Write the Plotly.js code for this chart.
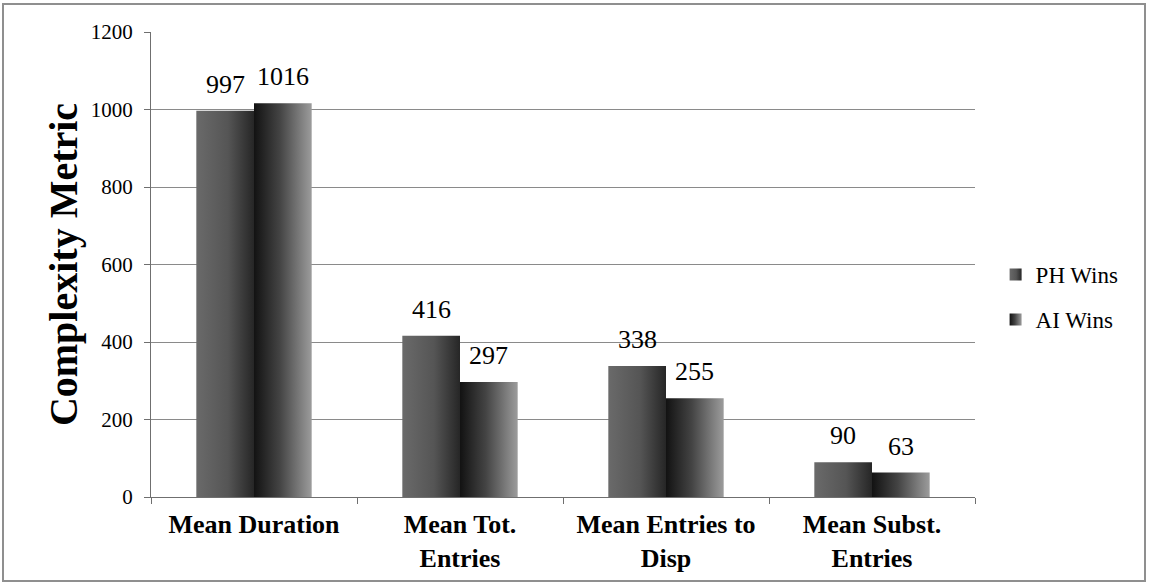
<!DOCTYPE html>
<html>
<head>
<meta charset="utf-8">
<script src="https://cdn.plot.ly/plotly-3.0.1.min.js"></script>
<style>
  html, body { margin: 0; padding: 0; background: #fff; }
  #wrap { position: relative; width: 1151px; height: 587px; }
  #chart { width: 1151px; height: 587px; }
  #frame { position: absolute; left: 2px; top: 3px; width: 1144px; height: 579px;
           border: 2px solid #8f8f8f; pointer-events: none; box-sizing: border-box; }
</style>
</head>
<body>
<div id="wrap">
  <div id="chart"></div>
  <div id="frame"></div>
</div>
<script>
const categories = ["Mean Duration", "Mean Tot.<br>Entries", "Mean Entries to<br>Disp", "Mean Subst.<br>Entries"];
const seriesNames = ["PH Wins", "AI Wins"];
const phWins = [997, 416, 338, 90];
const aiWins = [1016, 297, 255, 63];
const yTicks = [0, 200, 400, 600, 800, 1000, 1200];
const yTitle = "Complexity Metric";

const serif = "Liberation Serif";

const traces = [
  { type: "bar", name: seriesNames[0], x: categories, y: phWins, marker: { color: "#4a4a4a" },
    legendgroup: "a", hoverinfo: "skip" },
  { type: "bar", name: seriesNames[1], x: categories, y: aiWins, marker: { color: "#3a3a3a" },
    legendgroup: "b", hoverinfo: "skip" }
];

// value labels above each bar, placed at the bar's data value
const plotW = 1151 - 151 - 176;
const bargap = 0.44;
const barShift = (plotW / categories.length) * (1 - bargap) / 4;
const annotations = [];
[phWins, aiWins].forEach((vals, s) => {
  vals.forEach((v, i) => {
    annotations.push({
      xref: "x", yref: "y", x: categories[i], y: v, text: String(v),
      showarrow: false, xanchor: "center", yanchor: "bottom",
      xshift: (s === 0 ? -1 : 1) * barShift, yshift: 10,
      font: { family: serif, size: 26, color: "#000" }
    });
  });
});

const layout = {
  width: 1151, height: 587,
  margin: { l: 151, r: 176, t: 32, b: 90 },
  paper_bgcolor: "#fff", plot_bgcolor: "#fff",
  barmode: "group", bargap: bargap, bargroupgap: 0,
  font: { family: serif, color: "#000" },
  showlegend: true,
  legend: { x: 1.025, xanchor: "left", y: 0.43, yanchor: "middle",
            font: { family: serif, size: 23, color: "#000" },
            traceorder: "grouped", tracegroupgap: 12, itemwidth: 30 },
  annotations: annotations,
  xaxis: {
    type: "category", showgrid: false, showline: true, linecolor: "#6f6f6f", linewidth: 1,
    ticks: "outside", tickson: "boundaries", ticklen: 6, tickcolor: "#6f6f6f",
    ticklabelstandoff: 4,
    tickfont: { family: serif, size: 26, color: "#000", weight: "bold" }
  },
  yaxis: {
    range: [0, 1200], tickvals: yTicks, ticktext: yTicks.map(String),
    showgrid: true, gridcolor: "#8a8a8a", gridwidth: 1, zeroline: false,
    showline: true, linecolor: "#6f6f6f", linewidth: 1,
    ticks: "outside", ticklen: 6, tickcolor: "#6f6f6f", ticklabelstandoff: 7,
    tickfont: { family: serif, size: 21, color: "#000" },
    title: { text: yTitle, standoff: 0,
             font: { family: serif, size: 40, color: "#000", weight: "bold" } }
  }
};

function applyGradients(gd) {
  const svg = gd.querySelector("svg.main-svg");
  if (!svg) return;
  const ns = "http://www.w3.org/2000/svg";
  let defs = svg.querySelector("defs#custom-grads");
  if (!defs) {
    defs = document.createElementNS(ns, "defs");
    defs.setAttribute("id", "custom-grads");
    const grads = {
      gPH: [[0, "#6a6a6a"], [0.55, "#555555"], [1, "#262626"]],
      gAI: [[0, "#121212"], [0.45, "#444444"], [1, "#9c9c9c"]]
    };
    Object.keys(grads).forEach(id => {
      const lg = document.createElementNS(ns, "linearGradient");
      lg.setAttribute("id", id);
      lg.setAttribute("x1", "0"); lg.setAttribute("y1", "0");
      lg.setAttribute("x2", "1"); lg.setAttribute("y2", "0");
      grads[id].forEach(s => {
        const st = document.createElementNS(ns, "stop");
        st.setAttribute("offset", s[0]);
        st.setAttribute("stop-color", s[1]);
        lg.appendChild(st);
      });
      defs.appendChild(lg);
    });
    svg.insertBefore(defs, svg.firstChild);
  }
  const ids = ["gPH", "gAI"];
  gd.querySelectorAll(".barlayer .trace").forEach((t, i) => {
    t.querySelectorAll("path").forEach(p => { p.style.fill = "url(#" + ids[i] + ")"; });
  });
  gd.querySelectorAll(".legend .traces").forEach((t, i) => {
    t.querySelectorAll(".legendpoints path").forEach(p => { p.style.fill = "url(#" + ids[i] + ")"; });
  });
}

const gd = document.getElementById("chart");
Plotly.newPlot(gd, traces, layout, { displayModeBar: false, staticPlot: true }).then(() => {
  applyGradients(gd);
  gd.on("plotly_afterplot", () => applyGradients(gd));
});
</script>
</body>
</html>
